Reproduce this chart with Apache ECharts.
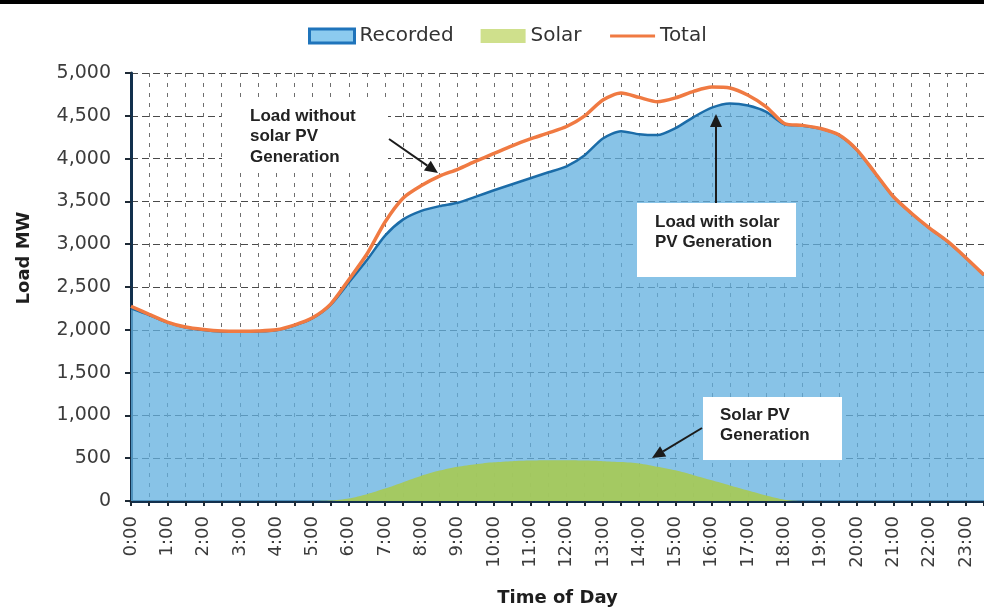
<!DOCTYPE html>
<html>
<head>
<meta charset="utf-8">
<script src="https://cdn.jsdelivr.net/npm/echarts@6/dist/echarts.min.js"></script>
<style>
  html, body { margin: 0; padding: 0; background: #fff; }
  #chart { width: 984px; height: 612px; }
</style>
</head>
<body>
<div id="chart"></div>
<script>
// Half-hourly time slots across the day
var timeSlots = [
  '0:00','0:30','1:00','1:30','2:00','2:30','3:00','3:30',
  '4:00','4:30','5:00','5:30','6:00','6:30','7:00','7:30',
  '8:00','8:30','9:00','9:30','10:00','10:30','11:00','11:30',
  '12:00','12:30','13:00','13:30','14:00','14:30','15:00','15:30',
  '16:00','16:30','17:00','17:30','18:00','18:30','19:00','19:30',
  '20:00','20:30','21:00','21:30','22:00','22:30','23:00','23:30'
];

// Recorded load (MW), i.e. load with solar PV generation
var recorded = [
  2250, 2172, 2086, 2028, 1998, 1981, 1978, 1981,
  1995, 2050, 2135, 2292, 2552, 2815, 3100, 3290,
  3390, 3445, 3485, 3555, 3630, 3700, 3770, 3840,
  3910, 4040, 4235, 4320, 4285, 4275, 4355, 4485,
  4595, 4645, 4620, 4545, 4400, 4385, 4350, 4275,
  4100, 3830, 3555, 3360, 3185, 3030, 2840, 2638
];

// Solar PV generation (MW)
var solar = [
  0, 0, 0, 0, 0, 0, 0, 0,
  0, 0, 0, 5, 30, 80, 145, 220,
  295, 355, 400, 430, 452, 465, 472, 475,
  475, 472, 465, 455, 438, 400, 358, 302,
  242, 182, 122, 64, 15, 0, 0, 0,
  0, 0, 0, 0, 0, 0, 0, 0
];

// Total load (MW), i.e. load without solar PV generation
var total = [
  2275, 2180, 2090, 2032, 2003, 1986, 1983, 1986,
  2000, 2055, 2140, 2300, 2585, 2885, 3260, 3540,
  3685, 3795, 3875, 3970, 4060, 4150, 4230, 4300,
  4375, 4500, 4685, 4765, 4715, 4665, 4710, 4785,
  4835, 4825, 4740, 4605, 4410, 4388, 4352, 4278,
  4102, 3832, 3557, 3362, 3188, 3032, 2842, 2640
];

// Y axis range and step
var yMin = 0, yMax = 5000, yStep = 500;

var seriesNames = ['Recorded', 'Solar', 'Total'];

var annFont = '"Liberation Sans", Arial, sans-serif';
var tickFont = '"DejaVu Sans", sans-serif';

// Straight arrow with a filled triangular head at (x2, y2)
function arrow(x1, y1, x2, y2) {
  var dx = x2 - x1, dy = y2 - y1;
  var len = Math.sqrt(dx * dx + dy * dy);
  var ux = dx / len, uy = dy / len;
  var headLen = 13, headHalf = 6;
  var bx = x2 - ux * headLen, by = y2 - uy * headLen;
  return [
    { type: 'line', z: 100, shape: { x1: x1, y1: y1, x2: bx, y2: by },
      style: { stroke: '#1b1b1b', lineWidth: 2 } },
    { type: 'polygon', z: 100,
      shape: { points: [[x2, y2], [bx - uy * headHalf, by + ux * headHalf], [bx + uy * headHalf, by - ux * headHalf]] },
      style: { fill: '#1b1b1b' } }
  ];
}

function noteBox(x, y, w, h) {
  return { type: 'rect', z: 99, shape: { x: x, y: y, width: w, height: h }, style: { fill: '#ffffff' } };
}

function noteText(x, y, text) {
  return { type: 'text', z: 101, x: x, y: y,
    style: { text: text, fontFamily: annFont, fontWeight: 'bold', fontSize: 17,
             lineHeight: 20.5, fill: '#222222' } };
}

var graphics = [
  // thin black rule along the top edge
  { type: 'rect', z: 100, shape: { x: 0, y: 0, width: 984, height: 4 }, style: { fill: '#000000' } },
  // y axis title
  { type: 'text', z: 101, x: 24, y: 258, rotation: Math.PI / 2,
    style: { text: 'Load MW', fontFamily: tickFont, fontWeight: 'bold', fontSize: 18,
             fill: '#1e1e1e', align: 'center', verticalAlign: 'middle' } },
  noteBox(222, 97, 166, 74),
  noteText(250, 106, 'Load without\nsolar PV\nGeneration'),
  noteBox(637, 203, 159, 74),
  noteText(655, 212, 'Load with solar\nPV Generation'),
  noteBox(703, 397, 139, 63),
  noteText(720, 405, 'Solar PV\nGeneration')
].concat(arrow(389, 139, 438, 173))
 .concat(arrow(716, 203, 716, 114))
 .concat(arrow(702, 428, 652, 458));

var chart = echarts.init(document.getElementById('chart'), null, { renderer: 'canvas' });

chart.setOption({
  animation: false,
  backgroundColor: '#ffffff',
  textStyle: { fontFamily: tickFont },
  legend: {
    left: 303,
    top: 21,
    itemWidth: 45,
    itemHeight: 14,
    itemGap: 27,
    textStyle: { fontFamily: tickFont, fontSize: 20, color: '#333333' },
    data: [
      { name: seriesNames[0], icon: 'rect',
        itemStyle: { color: '#8ccbef', borderColor: '#1f74bb', borderWidth: 3 } },
      { name: seriesNames[1], icon: 'rect',
        itemStyle: { color: '#cfe08c', borderWidth: 0 } },
      { name: seriesNames[2], itemStyle: { opacity: 0 }, lineStyle: { color: '#f07a42', width: 3 } }
    ]
  },
  grid: { left: 131, right: -3, top: 73, bottom: 110, containLabel: false },
  xAxis: {
    type: 'category',
    data: timeSlots,
    boundaryGap: false,
    name: 'Time of Day',
    nameLocation: 'middle',
    nameGap: 88,
    nameTextStyle: { fontFamily: tickFont, fontWeight: 'bold', fontSize: 18, color: '#1e1e1e' },
    axisLine: { lineStyle: { color: '#12304d', width: 3 } },
    axisTick: { show: true, interval: 0, length: 5, lineStyle: { color: '#1e2a36', width: 2 } },
    axisLabel: { interval: 1, rotate: 90, margin: 15, fontFamily: tickFont, fontSize: 18, color: '#3c3c3c' },
    splitLine: { show: true, interval: 0, lineStyle: { color: '#6e6e6e', type: [4, 6], width: 1 } }
  },
  yAxis: {
    type: 'value',
    min: yMin,
    max: yMax,
    interval: yStep,
    axisLine: { show: true, lineStyle: { color: '#12304d', width: 3 } },
    axisTick: { show: true, length: 6, lineStyle: { color: '#1e2a36', width: 2 } },
    axisLabel: {
      margin: 20, fontFamily: tickFont, fontSize: 19, color: '#3c3c3c',
      formatter: function (v) { return v.toLocaleString('en-US'); }
    },
    splitLine: { show: true, lineStyle: { color: '#4a4a4a', type: [7, 4], width: 1 } }
  },
  series: [
    {
      name: seriesNames[0],
      type: 'line',
      data: recorded,
      smooth: 0.25,
      symbol: 'none',
      z: 2,
      lineStyle: { color: '#1b6ca8', width: 2.5 },
      itemStyle: { color: '#1b6ca8' },
      areaStyle: { color: '#62b0e0', opacity: 0.76 }
    },
    {
      name: seriesNames[1],
      type: 'line',
      data: solar,
      smooth: 0.25,
      symbol: 'none',
      z: 3,
      lineStyle: { width: 0, color: '#a6c957' },
      itemStyle: { color: '#a6c957' },
      areaStyle: { color: '#a6c957', opacity: 0.93 }
    },
    {
      name: seriesNames[2],
      type: 'line',
      data: total,
      smooth: 0.25,
      symbol: 'none',
      z: 4,
      lineStyle: { color: '#f07a42', width: 3.5 },
      itemStyle: { color: '#f07a42' }
    }
  ],
  graphic: graphics
});
</script>
</body>
</html>
